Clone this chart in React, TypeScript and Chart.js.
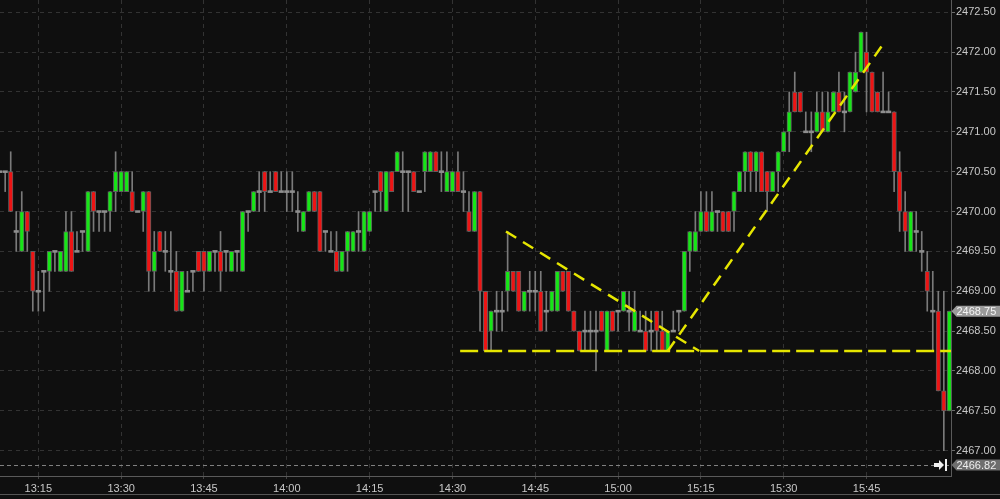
import React, { useEffect, useRef } from "react";
import { Chart, registerables } from "chart.js";

Chart.register(...registerables);

// Minutes are counted from 13:15. First bar = 13:08 (offset -7), last bar = 16:00.
const anchorHour = 13;
const anchorMinute = 15;
const firstBarOffset = -7;

const opens = [
  2470.5, 2470.5, 2470.5, 2469.75, 2469.5, 2470.0, 2469.5, 2469.0, 2469.25, 2469.25,
  2469.5, 2469.25, 2469.25, 2469.75, 2469.5, 2469.75, 2469.5, 2470.25, 2470.0, 2470.0,
  2470.0, 2470.25, 2470.25, 2470.25, 2470.25, 2470.0, 2470.0, 2470.25, 2469.25, 2469.75,
  2469.5, 2469.25, 2469.25, 2468.75, 2469.0, 2469.25, 2469.5, 2469.5, 2469.25, 2469.5,
  2469.5, 2469.5, 2469.25, 2469.5, 2469.25, 2470.0, 2470.0, 2470.25, 2470.5, 2470.25,
  2470.5, 2470.25, 2470.25, 2470.25, 2470.0, 2469.75, 2470.0, 2470.25, 2470.25, 2469.75,
  2469.5, 2469.5, 2469.25, 2469.5, 2469.5, 2469.75, 2469.5, 2469.75, 2470.25, 2470.5,
  2470.0, 2470.5, 2470.5, 2470.5, 2470.5, 2470.5, 2470.25, 2470.5, 2470.5, 2470.75,
  2470.5, 2470.25, 2470.25, 2470.5, 2470.25, 2470.0, 2469.75, 2470.25, 2469.0, 2468.5,
  2468.75, 2468.75, 2469.0, 2469.25, 2469.25, 2468.75, 2469.0, 2469.0, 2469.0, 2468.75,
  2468.75, 2468.75, 2469.25, 2469.25, 2468.75, 2468.5, 2468.5, 2468.5, 2468.5, 2468.75,
  2468.25, 2468.75, 2468.75, 2468.75, 2468.75, 2468.5, 2468.5, 2468.5, 2468.5, 2468.75,
  2468.5, 2468.25, 2468.5, 2468.75, 2468.75, 2469.5, 2469.5, 2469.75, 2470.0, 2469.75,
  2470.0, 2470.0, 2470.0, 2470.0, 2470.25, 2470.5, 2470.75, 2470.5, 2470.75, 2470.5,
  2470.25, 2470.5, 2470.75, 2471.0, 2471.5, 2471.5, 2471.0, 2471.0, 2471.0, 2471.25,
  2471.0, 2471.25, 2471.5, 2471.25, 2471.25, 2471.5, 2471.75, 2472.0, 2471.75, 2471.5,
  2471.25, 2471.25, 2471.25, 2470.5, 2470.0, 2469.5, 2469.75, 2469.5, 2469.25, 2468.75,
  2468.75, 2467.75, 2467.5,
];

const highs = [
  2470.5, 2470.5, 2470.75, 2470.0, 2470.25, 2470.0, 2469.5, 2469.25, 2469.25, 2469.5,
  2469.5, 2469.5, 2470.0, 2470.0, 2469.75, 2469.75, 2470.25, 2470.25, 2470.0, 2470.0,
  2470.25, 2470.75, 2470.5, 2470.5, 2470.5, 2470.0, 2470.25, 2470.25, 2469.75, 2469.75,
  2469.75, 2469.75, 2469.5, 2469.25, 2469.25, 2469.25, 2469.5, 2469.5, 2469.5, 2469.5,
  2469.75, 2469.5, 2469.5, 2469.5, 2470.0, 2470.0, 2470.25, 2470.5, 2470.5, 2470.5,
  2470.5, 2470.5, 2470.5, 2470.5, 2470.25, 2470.0, 2470.25, 2470.25, 2470.25, 2469.75,
  2469.75, 2469.75, 2469.5, 2469.75, 2469.75, 2470.0, 2470.0, 2470.0, 2470.25, 2470.5,
  2470.5, 2470.5, 2470.75, 2470.75, 2470.5, 2470.5, 2470.25, 2470.75, 2470.75, 2470.75,
  2470.75, 2470.75, 2470.5, 2470.75, 2470.5, 2470.25, 2470.25, 2470.25, 2469.0, 2468.75,
  2469.0, 2469.0, 2469.75, 2469.25, 2469.25, 2469.0, 2469.25, 2469.25, 2469.25, 2469.0,
  2469.0, 2469.25, 2469.25, 2469.25, 2468.75, 2468.5, 2468.75, 2468.75, 2468.75, 2468.75,
  2468.75, 2468.75, 2468.75, 2469.0, 2469.0, 2469.0, 2468.75, 2468.75, 2468.75, 2468.75,
  2468.75, 2468.5, 2468.75, 2468.75, 2469.5, 2469.75, 2470.0, 2470.25, 2470.25, 2470.25,
  2470.0, 2470.0, 2470.0, 2470.25, 2470.5, 2470.75, 2470.75, 2470.75, 2470.75, 2470.5,
  2470.5, 2470.75, 2471.0, 2471.5, 2471.75, 2471.5, 2471.25, 2471.25, 2471.5, 2471.5,
  2471.5, 2471.5, 2471.75, 2471.5, 2471.75, 2472.0, 2472.25, 2472.25, 2471.75, 2471.5,
  2471.75, 2471.5, 2471.25, 2470.75, 2470.25, 2470.0, 2470.0, 2469.75, 2469.5, 2469.25,
  2469.0, 2469.0, 2468.75,
];

const lows = [
  2470.5, 2470.25, 2470.0, 2469.5, 2469.5, 2469.5, 2468.75, 2468.75, 2468.75, 2469.0,
  2469.25, 2469.25, 2469.25, 2469.25, 2469.5, 2469.5, 2469.5, 2469.75, 2469.75, 2469.75,
  2469.75, 2470.0, 2470.25, 2470.25, 2470.0, 2470.0, 2469.75, 2469.0, 2469.0, 2469.5,
  2469.25, 2469.0, 2468.75, 2468.75, 2469.0, 2469.0, 2469.25, 2469.0, 2469.25, 2469.25,
  2469.0, 2469.25, 2469.25, 2469.25, 2469.25, 2469.75, 2470.0, 2470.0, 2470.0, 2470.25,
  2470.25, 2470.25, 2470.0, 2470.0, 2469.75, 2469.75, 2470.0, 2470.0, 2469.5, 2469.5,
  2469.5, 2469.25, 2469.25, 2469.25, 2469.5, 2469.5, 2469.5, 2469.75, 2470.0, 2470.0,
  2470.0, 2470.25, 2470.5, 2470.0, 2470.0, 2470.25, 2470.25, 2470.25, 2470.5, 2470.5,
  2470.25, 2470.25, 2470.25, 2470.25, 2470.0, 2469.75, 2469.75, 2468.5, 2468.25, 2468.25,
  2468.5, 2468.5, 2468.75, 2469.0, 2468.75, 2468.75, 2468.75, 2468.75, 2468.5, 2468.5,
  2468.75, 2468.75, 2469.0, 2468.75, 2468.5, 2468.25, 2468.25, 2468.25, 2468.0, 2468.5,
  2468.25, 2468.5, 2468.5, 2468.75, 2468.5, 2468.5, 2468.5, 2468.25, 2468.25, 2468.25,
  2468.25, 2468.25, 2468.5, 2468.5, 2468.75, 2469.25, 2469.5, 2469.75, 2469.75, 2469.75,
  2469.75, 2469.75, 2469.75, 2469.75, 2470.25, 2470.25, 2470.25, 2470.25, 2470.25, 2470.0,
  2470.25, 2470.25, 2470.75, 2470.75, 2471.25, 2471.25, 2471.0, 2470.75, 2471.0, 2471.0,
  2471.0, 2471.25, 2471.25, 2471.0, 2471.25, 2471.5, 2471.75, 2471.25, 2471.25, 2471.25,
  2471.25, 2471.25, 2470.25, 2469.75, 2469.5, 2469.5, 2469.5, 2469.25, 2468.75, 2468.25,
  2467.75, 2467.0, 2467.5,
];

const closes = [
  2470.5, 2470.5, 2470.0, 2469.75, 2470.0, 2469.75, 2469.0, 2469.0, 2469.25, 2469.5,
  2469.5, 2469.5, 2469.75, 2469.25, 2469.5, 2469.75, 2470.25, 2470.0, 2470.0, 2470.0,
  2470.25, 2470.5, 2470.5, 2470.5, 2470.0, 2470.0, 2470.25, 2469.25, 2469.5, 2469.5,
  2469.5, 2469.25, 2468.75, 2469.25, 2469.0, 2469.25, 2469.25, 2469.25, 2469.5, 2469.5,
  2469.25, 2469.5, 2469.5, 2469.5, 2470.0, 2470.0, 2470.25, 2470.25, 2470.25, 2470.25,
  2470.25, 2470.25, 2470.25, 2470.25, 2470.0, 2470.0, 2470.25, 2470.0, 2469.5, 2469.75,
  2469.5, 2469.25, 2469.5, 2469.75, 2469.75, 2469.75, 2470.0, 2470.0, 2470.25, 2470.25,
  2470.5, 2470.25, 2470.75, 2470.5, 2470.5, 2470.25, 2470.25, 2470.75, 2470.75, 2470.5,
  2470.5, 2470.5, 2470.5, 2470.25, 2470.25, 2469.75, 2470.25, 2469.0, 2468.25, 2468.75,
  2468.75, 2468.75, 2469.25, 2469.0, 2468.75, 2469.0, 2469.0, 2469.0, 2468.5, 2468.75,
  2469.0, 2469.25, 2469.0, 2468.75, 2468.5, 2468.25, 2468.5, 2468.5, 2468.5, 2468.5,
  2468.75, 2468.5, 2468.75, 2469.0, 2468.75, 2468.75, 2468.5, 2468.25, 2468.5, 2468.5,
  2468.25, 2468.5, 2468.5, 2468.75, 2469.5, 2469.75, 2469.75, 2470.0, 2469.75, 2470.0,
  2470.0, 2469.75, 2469.75, 2470.25, 2470.5, 2470.75, 2470.5, 2470.75, 2470.25, 2470.25,
  2470.5, 2470.75, 2471.0, 2471.25, 2471.25, 2471.25, 2471.0, 2471.0, 2471.25, 2471.0,
  2471.25, 2471.5, 2471.25, 2471.25, 2471.75, 2471.75, 2472.25, 2471.75, 2471.25, 2471.25,
  2471.25, 2471.25, 2470.5, 2470.0, 2469.75, 2470.0, 2469.75, 2469.5, 2469.0, 2468.75,
  2467.75, 2467.5, 2468.75,
];

// Axis ticks
const timeTicks = [0, 15, 30, 45, 60, 75, 90, 105, 120, 135, 150];
const priceTicks = [2467.0, 2467.5, 2468.0, 2468.5, 2469.0, 2469.5, 2470.0, 2470.5, 2471.0, 2471.5, 2472.0, 2472.5];
const xMin = -6.94;
const xMax = 165.3;
const yMin = 2466.682;
const yMax = 2472.654;

// Drawn trend lines (chart units: minutes from 13:15, price)
const supportLine = [
  { x: 76.4, y: 2468.25 },
  { x: 165.3, y: 2468.25 },
];
const fallingLine = [
  { x: 84.7, y: 2469.75 },
  { x: 119.7, y: 2468.25 },
];
const risingLine = [
  { x: 114.0, y: 2468.25 },
  { x: 152.8, y: 2472.08 },
];

const lastPrice = 2468.75;
const markerPrice = 2466.82;

const UP = "#16e616";
const DOWN = "#ee1414";
const YELLOW = "#e6e600";
const FONT = "'Liberation Sans', Arial, sans-serif";

function timeLabel(m: number): string {
  const t = anchorHour * 60 + anchorMinute + m;
  const h = Math.floor(t / 60);
  const mm = t % 60;
  return `${h}:${mm < 10 ? "0" : ""}${mm}`;
}

export default function App() {
  const canvasRef = useRef<HTMLCanvasElement | null>(null);

  useEffect(() => {
    if (!canvasRef.current) return;
    const minutes = opens.map((_, i) => i + firstBarOffset);

    const wickData = minutes.map((m, i) => ({ x: m, y: [lows[i], highs[i]] }));
    const bodyIdx = minutes.map((_, i) => i).filter((i) => opens[i] !== closes[i]);
    const dojiIdx = minutes.map((_, i) => i).filter((i) => opens[i] === closes[i]);
    const bodyData = bodyIdx.map((i) => ({ x: minutes[i], y: [opens[i], closes[i]] }));
    const bodyColors = bodyIdx.map((i) => (closes[i] > opens[i] ? UP : DOWN));
    const dojiData = dojiIdx.map((i) => ({ x: minutes[i], y: [opens[i] - 0.012, opens[i] + 0.012] }));

    const overlay = {
      id: "overlay",
      beforeDraw(chart: any) {
        const { ctx, width, height } = chart;
        ctx.save();
        ctx.fillStyle = "#0f0f0f";
        ctx.fillRect(0, 0, width, height);
        ctx.restore();
      },
      afterDraw(chart: any) {
        const { ctx, chartArea, width } = chart;
        const y = chart.scales.y;
        ctx.save();
        // marker dashed line
        const ym = Math.round(y.getPixelForValue(markerPrice)) + 0.5;
        ctx.strokeStyle = "#808080";
        ctx.lineWidth = 1;
        ctx.setLineDash([4, 3]);
        ctx.beginPath();
        ctx.moveTo(chartArea.left, ym);
        ctx.lineTo(chartArea.right, ym);
        ctx.stroke();
        ctx.setLineDash([]);
        // bottom frame line
        ctx.strokeStyle = "#555";
        ctx.beginPath();
        ctx.moveTo(0, chartArea.bottom + 18.5);
        ctx.lineTo(width, chartArea.bottom + 18.5);
        ctx.stroke();

        const tag = (price: number, bg: string, fg: string) => {
          const yp = y.getPixelForValue(price);
          const x0 = chartArea.right + 0.5;
          ctx.fillStyle = bg;
          ctx.beginPath();
          ctx.moveTo(x0, yp);
          ctx.lineTo(x0 + 5, yp - 5.5);
          ctx.lineTo(width, yp - 5.5);
          ctx.lineTo(width, yp + 5.5);
          ctx.lineTo(x0 + 5, yp + 5.5);
          ctx.closePath();
          ctx.fill();
          ctx.fillStyle = fg;
          ctx.font = `11px ${FONT}`;
          ctx.textBaseline = "middle";
          ctx.textAlign = "left";
          ctx.fillText(price.toFixed(2), x0 + 5, yp + 0.5);
        };
        tag(lastPrice, "#9a9a9a", "#f4f4f4");
        tag(markerPrice, "#6e6e6e", "#eeeeee");

        // "scroll to end" icon
        const iy = Math.round(y.getPixelForValue(markerPrice));
        const ix = chartArea.right - 17;
        ctx.fillStyle = "#f0f0f0";
        ctx.fillRect(ix, iy - 2, 6, 4);
        ctx.beginPath();
        ctx.moveTo(ix + 5, iy - 5);
        ctx.lineTo(ix + 10, iy);
        ctx.lineTo(ix + 5, iy + 5);
        ctx.closePath();
        ctx.fill();
        ctx.fillRect(ix + 11, iy - 6, 2, 12);
        ctx.restore();
      },
    };

    const chart = new Chart(canvasRef.current, {
      type: "bar",
      data: {
        datasets: [
          {
            type: "line",
            data: risingLine,
            borderColor: YELLOW,
            borderWidth: 2.5,
            borderDash: [12, 8],
            pointRadius: 0,
          } as any,
          {
            type: "line",
            data: fallingLine,
            borderColor: YELLOW,
            borderWidth: 2.5,
            borderDash: [12, 8],
            pointRadius: 0,
          } as any,
          {
            type: "line",
            data: supportLine,
            borderColor: YELLOW,
            borderWidth: 2.5,
            borderDash: [18, 6],
            pointRadius: 0,
          } as any,
          {
            data: bodyData as any,
            backgroundColor: bodyColors,
            borderColor: "#5e5e5e",
            borderWidth: 1,
            borderSkipped: false,
            barThickness: 4.5,
            grouped: false,
          } as any,
          {
            data: dojiData as any,
            backgroundColor: "#8e8e8e",
            borderWidth: 0,
            barThickness: 4.5,
            grouped: false,
          } as any,
          {
            data: wickData as any,
            backgroundColor: "#7a7a7a",
            borderWidth: 0,
            barThickness: 1,
            grouped: false,
          } as any,
        ],
      },
      options: {
        responsive: false,
        animation: false,
        layout: { padding: 0 },
        plugins: {
          legend: { display: false },
          tooltip: { enabled: false },
        },
        scales: {
          x: {
            type: "linear",
            min: xMin,
            max: xMax,
            offset: false,
            afterBuildTicks: (s: any) => {
              s.ticks = timeTicks.map((v) => ({ value: v }));
            },
            afterFit: (s: any) => {
              s.height = 23;
              s.paddingLeft = 0;
              s.paddingRight = 0;
              s.paddingTop = 0;
              s.paddingBottom = 0;
            },
            ticks: {
              color: "#c8c8c8",
              font: { family: FONT, size: 11 },
              padding: 3,
              maxRotation: 0,
              autoSkip: false,
              callback: (v: any) => timeLabel(Number(v)),
            },
            grid: {
              offset: false,
              color: "#333333",
              tickColor: "#444444",
              tickLength: 3,
            },
            border: { display: true, color: "#5a5a5a", dash: [4, 4] },
          } as any,
          y: {
            type: "linear",
            position: "right",
            min: yMin,
            max: yMax,
            afterBuildTicks: (s: any) => {
              s.ticks = priceTicks.map((v) => ({ value: v }));
            },
            afterFit: (s: any) => {
              s.width = 49;
              s.paddingTop = 0;
              s.paddingBottom = 0;
              s.paddingLeft = 0;
              s.paddingRight = 0;
            },
            ticks: {
              color: "#c8c8c8",
              font: { family: FONT, size: 11 },
              padding: 1,
              callback: (v: any) => Number(v).toFixed(2),
            },
            grid: {
              color: "#333333",
              tickColor: "#6a6a6a",
              tickLength: 4,
              tickBorderDash: [],
            },
            border: { display: true, color: "#5a5a5a", dash: [4, 4] },
          } as any,
        },
      },
      plugins: [overlay],
    });

    return () => chart.destroy();
  }, []);

  return (
    <div style={{ position: "absolute", left: 0, top: 0, width: 1000, height: 499, background: "#0f0f0f" }}>
      <canvas ref={canvasRef} width={1000} height={499} style={{ display: "block" }} />
    </div>
  );
}
